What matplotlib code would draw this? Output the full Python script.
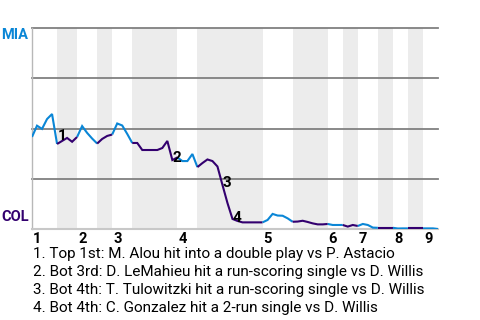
import matplotlib
matplotlib.use("Agg")
import matplotlib.pyplot as plt
import numpy as np

plt.rcParams['font.family'] = ['Roboto', 'DejaVu Sans']

# Plate appearances per half inning (top 1, bot 1, top 2, ...)
half_inning_pa = [5, 4, 4, 3, 4, 9, 4, 13, 6, 7, 3, 3, 4, 3, 3, 3, 3]
innings = ["1", "2", "3", "4", "5", "6", "7", "8", "9"]

# MIA win probability (%) after each plate appearance (index 0 = game start)
mia_wp = [45.8, 51.4, 49.8, 54.7, 57.2, 42.3,            # T1
          43.8, 45.3, 43.4, 45.8,                        # B1
          51.2, 47.8, 45.0, 42.5,                        # T2
          44.8, 46.3, 47.0,                              # B2
          52.5, 51.5, 47.3, 42.8,                        # T3
          42.8, 39.3, 39.3, 39.3, 39.3, 40.3, 43.8, 34.3, 35.6,  # B3
          33.8, 33.8, 37.3, 30.8,                        # T4
          32.8, 34.6, 33.8, 31.1, 21.9, 12.9, 5.0, 4.0, 3.3, 3.3, 3.3, 3.3, 3.3,  # B4
          4.5, 7.5, 6.7, 6.6, 5.3, 3.6,                  # T5
          3.7, 4.1, 3.5, 2.8, 2.3, 2.3, 2.5,             # B5
          2.0, 2.0, 2.0,                                 # T6
          1.2, 2.0, 1.5,                                 # B6
          2.5, 2.0, 0.7, 0.6,                            # T7
          0.6, 0.6, 0.6,                                 # B7
          0.25, 0.3, 0.3,                                # T8
          0.3, 0.3, 0.3,                                 # B8
          0.3, 0.3, 0.0]                                 # T9

# Key events: PA index where the event ends, and caption
event_index = [5, 28, 38, 40]
event_text = ["1. Top 1st: M. Alou hit into a double play vs P. Astacio",
              "2. Bot 3rd: D. LeMahieu hit a run-scoring single vs D. Willis",
              "3. Bot 4th: T. Tulowitzki hit a run-scoring single vs D. Willis",
              "4. Bot 4th: C. Gonzalez hit a 2-run single vs D. Willis"]

team_top = "MIA"
team_bottom = "COL"

BLUE = "#0A86D6"
PURPLE = "#33006F"
PX = 0.72  # points per pixel at dpi 100

fig = plt.figure(figsize=(4.8, 3.2), dpi=100)
ax = fig.add_axes([32/480, (320-229)/320, (438-32)/480, (229-28)/320])

bounds = np.concatenate([[0], np.cumsum(half_inning_pa)])
total = bounds[-1]
ax.set_xlim(0, total)
ax.set_ylim(0, 100)

# shaded bottom halves
for k in range(len(half_inning_pa)):
    if k % 2 == 1:
        ax.axvspan(bounds[k], bounds[k+1], color="#ececec", lw=0, zorder=0)

for g in [25, 50, 75, 100]:
    ax.axhline(g, color="#808080", lw=1.3, zorder=1, clip_on=False)

x = np.arange(len(mia_wp))
y = np.array(mia_wp)
for k in range(len(half_inning_pa)):
    s, e = bounds[k], bounds[k+1]
    col = BLUE if k % 2 == 0 else PURPLE
    ax.plot(x[s:e+1], y[s:e+1], color=col, lw=1.5, zorder=3,
            solid_joinstyle='miter', solid_capstyle='butt')

for n, idx in enumerate(event_index):
    mid = (y[idx-1] + y[idx]) / 2
    ax.annotate(str(n+1), xy=(idx, mid), xytext=(0.5*PX, 0), textcoords='offset points',
                ha='left', va='top', fontsize=11, fontweight='bold', color='black', zorder=4)

for sp in ['top', 'right']:
    ax.spines[sp].set_visible(False)
ax.spines['left'].set_color('#b8b8b8')
ax.spines['left'].set_linewidth(1.0)
ax.spines['bottom'].set_color('#c8c8c8')
ax.spines['bottom'].set_linewidth(1.5)
ax.set_xticks([])
ax.set_yticks([])

for j, lab in enumerate(innings):
    ax.annotate(lab, xy=(bounds[2*j], 0), xycoords=('data', 'axes fraction'),
                xytext=(1*PX, -3*PX), textcoords='offset points',
                ha='left', va='top', fontsize=10.5, fontweight='bold', color='black',
                annotation_clip=False)

ax.annotate(team_top, xy=(0, 100), xytext=(-3.5*PX, 0), textcoords='offset points',
            ha='right', va='top', fontsize=10.5, fontweight='bold', color=BLUE,
            annotation_clip=False)
ax.annotate(team_bottom, xy=(0, 0), xytext=(-3*PX, 5*PX), textcoords='offset points',
            ha='right', va='bottom', fontsize=10.5, fontweight='bold', color=PURPLE,
            annotation_clip=False)

for n, t in enumerate(event_text):
    fig.text(33/480, 1 - (258 + 18*n)/320, t, ha='left', va='baseline',
             fontsize=11, color='black')

fig.savefig("out.png", dpi=100)
